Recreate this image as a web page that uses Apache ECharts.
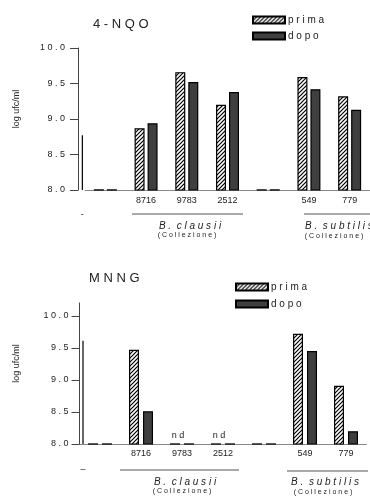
<!DOCTYPE html>
<html><head><meta charset="utf-8">
<script src="https://cdn.jsdelivr.net/npm/echarts@6/dist/echarts.min.js"></script>
<style>html,body{margin:0;padding:0;background:#fff}#c{width:370px;height:498px}</style>
</head><body><div id="c"></div>
<script>
// ---- data ----
const categories = ['', '8716', '9783', '2512', '', '549', '779'];
const nqoPrima = [8.01, 8.87, 9.66, 9.20, 8.01, 9.59, 9.32];
const nqoDopo  = [8.01, 8.94, 9.52, 9.38, 8.01, 9.42, 9.13];
const mnngPrima = [8.01, 9.47, 8.01, 8.01, 8.01, 9.72, 8.91];
const mnngDopo  = [8.01, 8.51, 8.01, 8.01, 8.01, 9.45, 8.20];
const mnngNd = [false, false, true, true, false, false, false];
const ctrlLine = [8.77, 9.61]; // thin "-" marks (top, bottom)
const yTicks = [8, 8.5, 9, 9.5, 10];
const titles = ['4-NQO', 'MNNG'];
const groups = ['B.clausii', 'B.subtilis'];
const sub = '(Collezione)';

const FONT = 'Liberation Sans';
const sp = s => s.split('').join(' ');

const hatch = (() => {
  const c = document.createElement('canvas'); c.width = 4; c.height = 4;
  const g = c.getContext('2d');
  g.fillStyle = '#fff'; g.fillRect(0, 0, 4, 4);
  g.strokeStyle = '#000'; g.lineWidth = 1.2;
  g.beginPath();
  g.moveTo(0, 4); g.lineTo(4, 0);
  g.moveTo(-1, 1); g.lineTo(1, -1);
  g.moveTo(3, 5); g.lineTo(5, 3);
  g.stroke();
  return c;
})();
const primaStyle = { color: { image: hatch, repeat: 'repeat' }, borderColor: '#000', borderWidth: 1.2 };
const dopoStyle = { color: '#3f3f3f', borderColor: '#000', borderWidth: 1.2 };

const chart = echarts.init(document.getElementById('c'), null, { renderer: 'canvas' });

function yAx(gi, max, offset, margin, gap) {
  return {
    gridIndex: gi, type: 'value', min: 8, max: max, interval: 0.5, offset: offset,
    name: 'log ufc/ml', nameLocation: 'middle', nameGap: gap, nameRotate: 90,
    nameTextStyle: { fontFamily: FONT, fontSize: 9, color: '#222', padding: [0, 0, 0, 20] },
    axisLine: { show: true, lineStyle: { color: '#444', width: 1 } },
    axisTick: { show: true, length: 8, lineStyle: { color: '#444' }, customValues: yTicks },
    axisLabel: { customValues: yTicks, margin: margin, fontFamily: FONT, fontSize: 9, color: '#222',
      formatter: v => sp(v.toFixed(1)) },
    splitLine: { show: false }
  };
}
function xAx(gi, margin) {
  return {
    gridIndex: gi, type: 'category', data: categories,
    axisLine: { show: true, lineStyle: { color: '#888', width: 1 } },
    axisTick: { show: false },
    axisLabel: { margin: margin, fontFamily: FONT, fontSize: 9, color: '#222' }
  };
}
function ctrl(gi, idx, dx, label, dy) {
  return {
    type: 'custom', xAxisIndex: gi, yAxisIndex: gi, silent: true, clip: false,
    data: [[0, ctrlLine[idx]]],
    renderItem: (p, api) => {
      const top = api.coord([0, api.value(1)]);
      const base = api.coord([0, 8]);
      const x = base[0] + dx;
      return { type: 'group', children: [
        { type: 'line', shape: { x1: x, y1: top[1], x2: x, y2: base[1] }, style: { stroke: '#000', lineWidth: 1.2 } },
        { type: 'text', style: { text: label, x: x, y: base[1] + dy, align: 'center', verticalAlign: 'middle',
          font: '9px ' + FONT, fill: '#222' } }
      ] };
    }
  };
}

const option = {
  animation: false,
  title: [
    { text: sp(titles[0]), left: 93, top: 18, padding: 0, textStyle: { fontFamily: FONT, fontSize: 13, fontWeight: 'normal', color: '#222' } },
    { text: sp(titles[1]), left: 89, top: 272, padding: 0, textStyle: { fontFamily: FONT, fontSize: 13, fontWeight: 'normal', color: '#222' } }
  ],
  legend: [
    { data: ['prima', 'dopo'], orient: 'vertical', left: 252, top: 15, padding: 0, itemWidth: 32, itemHeight: 7, itemGap: 6,
      icon: 'rect', formatter: n => sp(n), textStyle: { fontFamily: FONT, fontSize: 10, color: '#222', padding: [0, 0, 0, -2] } },
    { data: ['prima', 'dopo'], orient: 'vertical', left: 235, top: 282, padding: 0, itemWidth: 32, itemHeight: 7, itemGap: 7,
      icon: 'rect', formatter: n => sp(n), textStyle: { fontFamily: FONT, fontSize: 10, color: '#222', padding: [0, 0, 0, -2] } }
  ],
  grid: [
    { left: 85, top: 48, width: 294, height: 142 },
    { left: 79.5, top: 303, width: 287, height: 141 }
  ],
  xAxis: [xAx(0, 6), xAx(1, 5)],
  yAxis: [yAx(0, 10, 7, 13, 57), yAx(1, 10.2, 0, 11, 58)],
  series: [
    { name: 'prima', type: 'bar', xAxisIndex: 0, yAxisIndex: 0, data: nqoPrima, barWidth: 10, barGap: '30%', itemStyle: primaStyle },
    { name: 'dopo', type: 'bar', xAxisIndex: 0, yAxisIndex: 0, data: nqoDopo, barWidth: 10, barGap: '30%', itemStyle: dopoStyle },
    { name: 'prima', type: 'bar', xAxisIndex: 1, yAxisIndex: 1, barWidth: 10, barGap: '40%', itemStyle: primaStyle,
      data: mnngPrima.map((v, i) => mnngNd[i] ? { value: v, label: { show: true, position: 'top', distance: 3, formatter: 'n d',
        fontFamily: FONT, fontSize: 9, color: '#222', offset: [3, 0] } } : v) },
    { name: 'dopo', type: 'bar', xAxisIndex: 1, yAxisIndex: 1, data: mnngDopo, barWidth: 10, barGap: '40%', itemStyle: dopoStyle },
    ctrl(0, 0, -23, '-', 25),
    ctrl(1, 1, -17, '–', 26)
  ],
  graphic: [
    { type: 'line', shape: { x1: 132, y1: 214, x2: 243, y2: 214 }, style: { stroke: '#555', lineWidth: 1 } },
    { type: 'text', x: 190, y: 226, style: { text: sp(groups[0]).replace('. ', '.  '), align: 'center', verticalAlign: 'middle', font: 'italic 10px ' + FONT, fill: '#222' } },
    { type: 'text', x: 187, y: 235, style: { text: sp(sub), align: 'center', verticalAlign: 'middle', font: '7px ' + FONT, fill: '#222' } },
    { type: 'line', shape: { x1: 304, y1: 214, x2: 372, y2: 214 }, style: { stroke: '#555', lineWidth: 1 } },
    { type: 'text', x: 305, y: 226, style: { text: sp(groups[1]).replace('. ', '.  '), align: 'left', verticalAlign: 'middle', font: 'italic 10px ' + FONT, fill: '#222' } },
    { type: 'text', x: 334, y: 236, style: { text: sp(sub), align: 'center', verticalAlign: 'middle', font: '7px ' + FONT, fill: '#222' } },

    { type: 'line', shape: { x1: 120, y1: 470, x2: 239, y2: 470 }, style: { stroke: '#555', lineWidth: 1 } },
    { type: 'text', x: 185, y: 482, style: { text: sp(groups[0]).replace('. ', '.  '), align: 'center', verticalAlign: 'middle', font: 'italic 10px ' + FONT, fill: '#222' } },
    { type: 'text', x: 182, y: 491, style: { text: sp(sub), align: 'center', verticalAlign: 'middle', font: '7px ' + FONT, fill: '#222' } },
    { type: 'line', shape: { x1: 287, y1: 471, x2: 368, y2: 471 }, style: { stroke: '#555', lineWidth: 1 } },
    { type: 'text', x: 325, y: 482, style: { text: sp(groups[1]).replace('. ', '.  '), align: 'center', verticalAlign: 'middle', font: 'italic 10px ' + FONT, fill: '#222' } },
    { type: 'text', x: 323, y: 492, style: { text: sp(sub), align: 'center', verticalAlign: 'middle', font: '7px ' + FONT, fill: '#222' } }
  ]
};
chart.setOption(option);
</script></body></html>
